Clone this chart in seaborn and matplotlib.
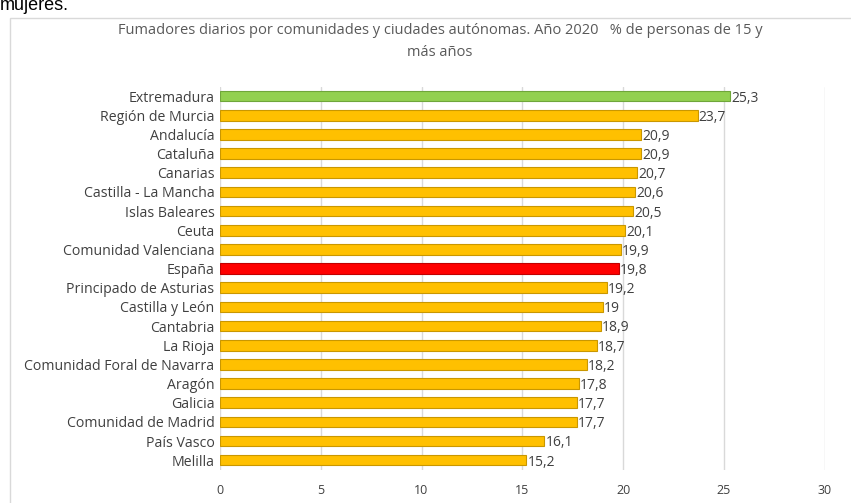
import matplotlib
matplotlib.use("Agg")
import matplotlib.pyplot as plt
import seaborn as sns
from matplotlib.patches import Rectangle

regiones = ["Extremadura", "Región de Murcia", "Andalucía", "Cataluña", "Canarias",
            "Castilla - La Mancha", "Islas Baleares", "Ceuta", "Comunidad Valenciana",
            "España", "Principado de Asturias", "Castilla y León", "Cantabria",
            "La Rioja", "Comunidad Foral de Navarra", "Aragón", "Galicia",
            "Comunidad de Madrid", "País Vasco", "Melilla"]
valores = [25.3, 23.7, 20.9, 20.9, 20.7, 20.6, 20.5, 20.1, 19.9, 19.8,
           19.2, 19.0, 18.9, 18.7, 18.2, 17.8, 17.7, 17.7, 16.1, 15.2]
etiquetas = ["25,3", "23,7", "20,9", "20,9", "20,7", "20,6", "20,5", "20,1", "19,9", "19,8",
             "19,2", "19", "18,9", "18,7", "18,2", "17,8", "17,7", "17,7", "16,1", "15,2"]
ticks_x = [0, 5, 10, 15, 20, 25, 30]

YELLOW = "#FFC000"
colores = {r: YELLOW for r in regiones}
colores["Extremadura"] = "#92D050"
colores["España"] = "#FF0000"
bordes = {r: "#C99700" for r in regiones}
bordes["Extremadura"] = "#6FA63A"
bordes["España"] = "#C00000"

sns.set_style("white")
plt.rcParams["font.family"] = ["Open Sans", "DejaVu Sans"]

fig = plt.figure(figsize=(8.51, 5.03), dpi=100)
ax = fig.add_axes([0.2585, 0.066, 0.7105, 0.762])

sns.barplot(x=valores, y=regiones, hue=regiones, palette=colores, saturation=1,
            legend=False, width=0.55, ax=ax, zorder=3)
for patch, reg in zip(ax.patches, regiones):
    patch.set_edgecolor(bordes[reg])
    patch.set_linewidth(0.8)

for i, (v, t) in enumerate(zip(valores, etiquetas)):
    ax.text(v + 0.05, i + 0.1, t, va="center", ha="left", fontsize=10, color="#404040")

ax.set_xlim(0, 30)
ax.set_ylim(len(regiones) - 0.5, -0.5)
ax.set_xticks(ticks_x)
ax.set_xticklabels([str(t) for t in ticks_x])
ax.xaxis.grid(True, color="#D9D9D9", linewidth=1, zorder=0)
ax.set_axisbelow(True)
for s in ax.spines.values():
    s.set_visible(False)
ax.tick_params(axis="both", length=0, labelcolor="#404040")
ax.tick_params(axis="x", pad=10, labelsize=9)
ax.tick_params(axis="y", pad=4, labelsize=10.2)
ax.set_xlabel("")
ax.set_ylabel("")

fig.patches.append(Rectangle((10 / 851, -0.01), 1.0, 1 - 18 / 503 + 0.01,
                             transform=fig.transFigure, fill=False,
                             edgecolor="#D9D9D9", linewidth=1))
fig.text(440 / 851, 1 - 30 / 503,
         "Fumadores diarios por comunidades y ciudades autónomas. Año 2020   % de personas de 15 y",
         ha="center", va="center", fontsize=10.5, color="#595959")
fig.text(440 / 851, 1 - 52 / 503, "más años",
         ha="center", va="center", fontsize=10.5, color="#595959")
fig.text(0.0, 1 - 5 / 503, "mujeres.", ha="left", va="center", fontsize=13,
         color="#000000", family=["Liberation Sans", "DejaVu Sans"])

fig.savefig("out.png", dpi=100)
